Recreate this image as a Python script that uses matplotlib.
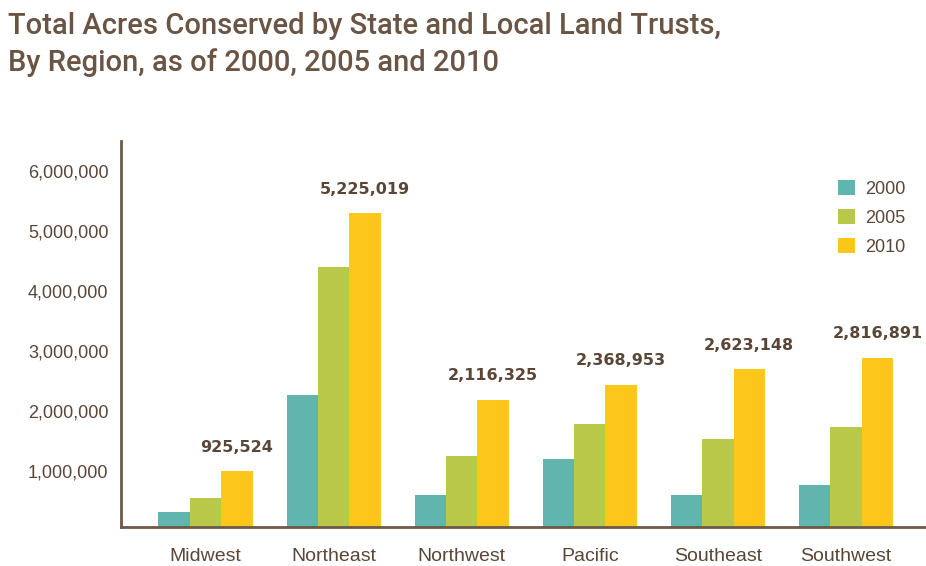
import matplotlib.pyplot as plt
import matplotlib.transforms as mtransforms
import numpy as np

regions = ["Midwest", "Northeast", "Northwest", "Pacific", "Southeast", "Southwest"]
years = ["2000", "2005", "2010"]
acres_2000 = [250000, 2200000, 530000, 1130000, 530000, 700000]
acres_2005 = [480000, 4330000, 1180000, 1720000, 1470000, 1670000]
acres_2010 = [925524, 5225019, 2116325, 2368953, 2623148, 2816891]
yticks = [1000000, 2000000, 3000000, 4000000, 5000000, 6000000]

colors = ["#62b4ae", "#bac84a", "#fdc61a"]
txt = "#5a4637"
axis_col = "#6e5a4b"

fig = plt.figure(figsize=(9.26, 5.66), dpi=100)
ax = fig.add_axes([0.1307, 0.069, 0.8693, 0.682])

x = np.arange(len(regions))
w = 0.245
series = [acres_2000, acres_2005, acres_2010]
for i, vals in enumerate(series):
    ax.bar(x + (i - 1) * w, vals, width=w, color=colors[i], label=years[i], zorder=2)

for xi, v in zip(x, acres_2010):
    ax.annotate(f"{v:,}", (xi + w, v), xytext=(0, 12), textcoords="offset points",
                ha="center", va="bottom", fontsize=11.5, fontweight="bold",
                color=txt, family="DejaVu Sans")

ax.set_xlim(-0.66, 5.625)
ax.set_ylim(0, 6430000)
ax.set_yticks(yticks)
ax.set_yticklabels([f"{t:,}" for t in yticks])
ax.set_xticks(x)
ax.set_xticklabels(regions)
ax.tick_params(axis="both", length=0, colors=txt)
ax.tick_params(axis="y", pad=9, labelsize=13)
ax.tick_params(axis="x", pad=15, labelsize=14)
for lab in ax.get_yticklabels():
    lab.set_family("Liberation Sans")
    lab.set_transform(lab.get_transform() +
                      mtransforms.ScaledTranslation(0, -0.04, fig.dpi_scale_trans))
for lab in ax.get_xticklabels():
    lab.set_family("Liberation Sans")

for s in ["top", "right"]:
    ax.spines[s].set_visible(False)
for s in ["left", "bottom"]:
    ax.spines[s].set_color(axis_col)
    ax.spines[s].set_linewidth(2)

leg = ax.legend(loc="upper left", bbox_to_anchor=(0.871, 0.94), frameon=False,
                handlelength=0.9, handleheight=0.9, handletextpad=0.6,
                labelspacing=0.62, fontsize=13)
for t in leg.get_texts():
    t.set_color(txt)
    t.set_family("Liberation Sans")

fig.text(0.009, 0.978, "Total Acres Conserved by State and Local Land Trusts,\nBy Region, as of 2000, 2005 and 2010",
         ha="left", va="top", fontsize=21, color="#6a5443", linespacing=1.35,
         family=["Roboto", "Liberation Sans"], fontweight="medium")

fig.savefig("out.png", dpi=100)
